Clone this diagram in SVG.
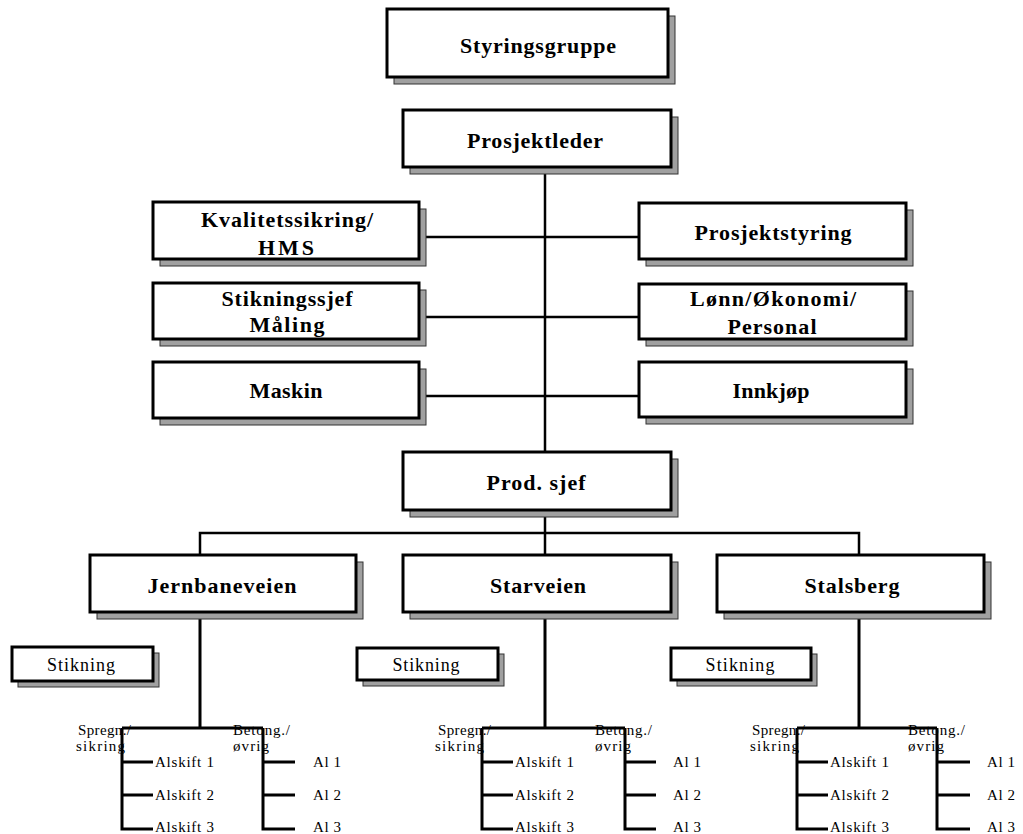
<svg xmlns="http://www.w3.org/2000/svg" width="1023" height="834" viewBox="0 0 1023 834">
<style>
.sh{fill:#a0a0a0;stroke:#333;stroke-width:1}
.bx{fill:#fff;stroke:#000;stroke-width:3}
.lb{font-family:"Liberation Serif",serif;font-weight:bold;font-size:22px;fill:#000;text-anchor:middle}
.st{font-family:"Liberation Serif",serif;font-size:18px;fill:#000;text-anchor:middle}
.sm{font-family:"Liberation Serif",serif;font-size:15px;fill:#000}
.cn{stroke:#000;stroke-width:2.5;fill:none}
.cs{stroke:#000;stroke-width:3;fill:none}
</style>
<rect width="1023" height="834" fill="#fff"/>
<g id="connectors">
<path class="cn" d="M545 167V452M419 237H639M419 317H639M419 396H639M545 510V555M200 555V533H859V555"/>
<path class="cs" d="M200 612V728M545 602V728M859 612V728"/>
<path class="cs" d="M122 728H263M122 728V829H153M122 762H153M122 795H153M263 728V829H295M263 762H295M263 795H295"/>
<path class="cs" d="M482 728H625M482 728V829H513M482 762H513M482 795H513M625 728V829H656M625 762H656M625 795H656"/>
<path class="cs" d="M797 728H937M797 728V829H828M797 762H828M797 795H828M937 728V829H970M937 762H970M937 795H970"/>
</g>
<g id="styringsgruppe"><rect class="sh" x="394" y="16" width="281" height="68"/><rect class="bx" x="387" y="9" width="281" height="68"/><text class="lb" x="538" y="53" textLength="156">Styringsgruppe</text></g>
<g id="prosjektleder"><rect class="sh" x="410" y="117" width="268" height="57"/><rect class="bx" x="403" y="110" width="268" height="57"/><text class="lb" x="535" y="148" textLength="136">Prosjektleder</text></g>
<g id="kvalitetssikring"><rect class="sh" x="160" y="209" width="266" height="57"/><rect class="bx" x="153" y="202" width="266" height="57"/><text class="lb" x="287" y="227" textLength="172">Kvalitetssikring/</text><text class="lb" x="286" y="255" textLength="56">HMS</text></g>
<g id="stikningssjef"><rect class="sh" x="160" y="290" width="266" height="56"/><rect class="bx" x="153" y="283" width="266" height="56"/><text class="lb" x="287" y="306" textLength="131">Stikningssjef</text><text class="lb" x="287" y="332" textLength="75">Måling</text></g>
<g id="maskin"><rect class="sh" x="160" y="369" width="266" height="56"/><rect class="bx" x="153" y="362" width="266" height="56"/><text class="lb" x="286" y="398" textLength="73">Maskin</text></g>
<g id="prosjektstyring"><rect class="sh" x="646" y="210" width="267" height="56"/><rect class="bx" x="639" y="203" width="267" height="56"/><text class="lb" x="773" y="240" textLength="157">Prosjektstyring</text></g>
<g id="lonn"><rect class="sh" x="646" y="291" width="267" height="55"/><rect class="bx" x="639" y="284" width="267" height="55"/><text class="lb" x="773" y="306" textLength="166">Lønn/Økonomi/</text><text class="lb" x="772" y="334" textLength="89">Personal</text></g>
<g id="innkjop"><rect class="sh" x="646" y="369" width="267" height="55"/><rect class="bx" x="639" y="362" width="267" height="55"/><text class="lb" x="771" y="398" textLength="77">Innkjøp</text></g>
<g id="prodsjef"><rect class="sh" x="410" y="459" width="268" height="58"/><rect class="bx" x="403" y="452" width="268" height="58"/><text class="lb" x="536" y="490" textLength="99">Prod. sjef</text></g>
<g id="jernbaneveien"><rect class="sh" x="97" y="562" width="266" height="57"/><rect class="bx" x="90" y="555" width="266" height="57"/><text class="lb" x="222" y="593" textLength="149">Jernbaneveien</text></g>
<g id="starveien"><rect class="sh" x="410" y="562" width="268" height="57"/><rect class="bx" x="403" y="555" width="268" height="57"/><text class="lb" x="538" y="593" textLength="96">Starveien</text></g>
<g id="stalsberg"><rect class="sh" x="724" y="562" width="267" height="57"/><rect class="bx" x="717" y="555" width="267" height="57"/><text class="lb" x="852" y="593" textLength="95">Stalsberg</text></g>
<g id="stikning1"><rect class="sh" x="18" y="653" width="141" height="34"/><rect class="bx" x="12" y="647" width="141" height="34"/><text class="st" x="81" y="671" textLength="68">Stikning</text></g>
<g id="stikning2"><rect class="sh" x="363" y="654" width="141" height="32"/><rect class="bx" x="357" y="648" width="141" height="32"/><text class="st" x="426" y="671" textLength="67">Stikning</text></g>
<g id="stikning3"><rect class="sh" x="677" y="654" width="140" height="32"/><rect class="bx" x="671" y="648" width="140" height="32"/><text class="st" x="740" y="671" textLength="69">Stikning</text></g>
<g id="team-jernbaneveien" class="sm">
<text x="78" y="735" textLength="53">Spregn./</text><text x="76" y="751" textLength="49">sikring</text>
<text x="233" y="735" textLength="57">Betong./</text><text x="233" y="751" textLength="36">øvrig</text>
<text x="155" y="767" textLength="59">Alskift 1</text><text x="155" y="800" textLength="59">Alskift 2</text><text x="155" y="832" textLength="59">Alskift 3</text>
<text x="313" y="767" textLength="28">Al 1</text><text x="313" y="800" textLength="28">Al 2</text><text x="313" y="832" textLength="28">Al 3</text>
</g>
<g id="team-starveien" class="sm">
<text x="438" y="735" textLength="53">Spregn./</text><text x="435" y="751" textLength="49">sikring</text>
<text x="595" y="735" textLength="57">Betong./</text><text x="595" y="751" textLength="36">øvrig</text>
<text x="515" y="767" textLength="59">Alskift 1</text><text x="515" y="800" textLength="59">Alskift 2</text><text x="515" y="832" textLength="59">Alskift 3</text>
<text x="673" y="767" textLength="28">Al 1</text><text x="673" y="800" textLength="28">Al 2</text><text x="673" y="832" textLength="28">Al 3</text>
</g>
<g id="team-stalsberg" class="sm">
<text x="752" y="735" textLength="53">Spregn./</text><text x="750" y="751" textLength="49">sikring</text>
<text x="908" y="735" textLength="57">Betong./</text><text x="908" y="751" textLength="36">øvrig</text>
<text x="830" y="767" textLength="59">Alskift 1</text><text x="830" y="800" textLength="59">Alskift 2</text><text x="830" y="832" textLength="59">Alskift 3</text>
<text x="987" y="767" textLength="28">Al 1</text><text x="987" y="800" textLength="28">Al 2</text><text x="987" y="832" textLength="28">Al 3</text>
</g>
</svg>
